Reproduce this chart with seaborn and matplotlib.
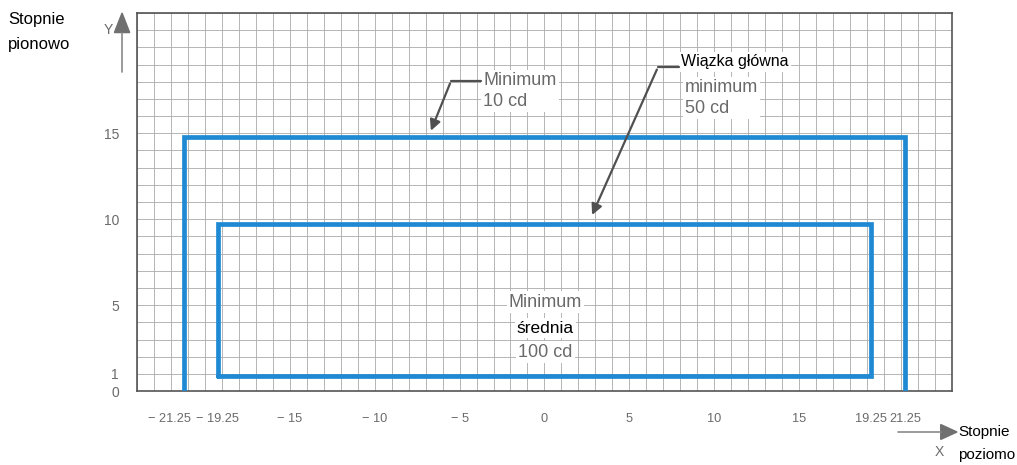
import pandas as pd
import matplotlib.pyplot as plt
import matplotlib.transforms as mtransforms
import seaborn as sns

sns.set_theme(style='white')
plt.rcParams['font.family'] = ['Liberation Sans', 'DejaVu Sans']

# Dane (stopnie)
outer_x = [-21.25, -21.25, 21.25, 21.25]
outer_y = [0, 14.8, 14.8, 0]
inner_x = [-19.2, -19.2, 19.25, 19.25, -19.2]
inner_y = [0.9, 9.75, 9.75, 0.9, 0.9]

x_ticks = [-21.25, -19.25, -15, -10, -5, 0, 5, 10, 15, 19.25, 21.25]
x_labels = ['− 21.25', '− 19.25', '− 15', '− 10', '− 5', '0', '5', '10', '15', '19.25', '21.25']
y_ticks = [0, 1, 5, 10, 15]
y_labels = ['0', '1', '5', '10', '15']

BLUE = '#1f8ad3'
GRAY = '#6a6a6a'
ARROW = '#505050'

df = pd.concat([
    pd.DataFrame({'x': outer_x, 'y': outer_y, 'shape': 'zewn'}),
    pd.DataFrame({'x': inner_x, 'y': inner_y, 'shape': 'wewn'}),
], ignore_index=True)

fig = plt.figure(figsize=(10.17, 4.65), dpi=100)
ax = fig.add_axes([0.1347, 0.159, 0.8013, 0.813])

sns.lineplot(data=df, x='x', y='y', units='shape', estimator=None, sort=False,
             color=BLUE, linewidth=3.4, ax=ax, solid_joinstyle='miter', zorder=3)

ax.set_xlim(-24, 24)
ax.set_ylim(0, 22)

# siatka co 1 stopien
ax.set_xticks(range(-24, 25), minor=True)
ax.set_yticks(range(0, 23), minor=True)
ax.xaxis.remove_overlapping_locs = False
ax.yaxis.remove_overlapping_locs = False
ax.grid(which='minor', color='#b0b0b0', linewidth=0.65)
ax.grid(which='major', visible=False)
ax.tick_params(which='minor', length=0)

ax.set_xticks(x_ticks)
ax.set_xticklabels(x_labels)
ax.set_yticks(y_ticks)
ax.set_yticklabels(y_labels)
ax.tick_params(axis='both', which='major', direction='out', length=10, width=1,
               color='#777777', labelcolor=GRAY, labelsize=9.2)
ax.tick_params(axis='x', pad=6)
ax.tick_params(axis='y', pad=3, labelsize=10)
ax.set_xlabel('')
ax.set_ylabel('')
for s in ax.spines.values():
    s.set_color('#555555')
    s.set_linewidth(1.2)

# przesuniecie etykiety -21.25 w lewo, jak na oryginale
lbl = ax.get_xticklabels()[0]
lbl.set_transform(lbl.get_transform() + mtransforms.ScaledTranslation(-14 / 100, 0, fig.dpi_scale_trans))

box = dict(facecolor='white', edgecolor='none', pad=1.5)

# Minimum 10 cd
ax.text(-3.6, 17.45, 'Minimum\n10 cd', color=GRAY, fontsize=13, ha='left', va='center',
        linespacing=1.3, bbox=box, zorder=4)
ax.plot([-3.75, -5.5], [18.05, 18.05], color=ARROW, lw=1.6, zorder=4)
ax.annotate('', xy=(-6.75, 15.0), xytext=(-5.5, 18.05),
            arrowprops=dict(arrowstyle='-|>', color=ARROW, lw=1.6, mutation_scale=16), zorder=4)

# Wiazka glowna
ax.text(8.05, 19.15, 'Wiązka główna', color='black', fontsize=11.5, ha='left', va='center',
        bbox=box, zorder=4)
ax.text(8.28, 17.05, 'minimum\n50 cd', color=GRAY, fontsize=13, ha='left', va='center',
        linespacing=1.3, bbox=box, zorder=4)
ax.plot([7.9, 6.69], [18.86, 18.86], color=ARROW, lw=1.6, zorder=4)
ax.annotate('', xy=(2.74, 10.1), xytext=(6.69, 18.86),
            arrowprops=dict(arrowstyle='-|>', color=ARROW, lw=1.6, mutation_scale=16), zorder=4)

# Minimum srednia 100 cd
ax.text(0.05, 5.18, 'Minimum', color=GRAY, fontsize=13, ha='center', va='center', bbox=box, zorder=4)
ax.text(0.05, 3.67, 'średnia', color='black', fontsize=12.5, ha='center', va='center', bbox=box, zorder=4)
ax.text(0.05, 2.27, '100 cd', color=GRAY, fontsize=13, ha='center', va='center', bbox=box, zorder=4)

# opisy osi
fig.text(0.008, 0.957, 'Stopnie', fontsize=12, color='black', ha='left', va='center')
fig.text(0.008, 0.905, 'pionowo', fontsize=12, color='black', ha='left', va='center')
fig.text(0.106, 0.935, 'Y', fontsize=10, color=GRAY, ha='center', va='center')
fig.add_artist(plt.Line2D([0.120, 0.120], [0.845, 0.93], color='#8a8a8a', lw=1.2))
fig.patches.append(plt.Polygon([[0.1125, 0.93], [0.1275, 0.93], [0.120, 0.972]],
                               closed=True, color='#707070', transform=fig.transFigure))

fig.add_artist(plt.Line2D([0.883, 0.925], [0.071, 0.071], color='#8a8a8a', lw=1.2))
fig.patches.append(plt.Polygon([[0.925, 0.055], [0.925, 0.087], [0.941, 0.071]],
                               closed=True, color='#707070', transform=fig.transFigure))
fig.text(0.942, 0.071, 'Stopnie', fontsize=11, color='black', ha='left', va='center')
fig.text(0.942, 0.022, 'poziomo', fontsize=11, color='black', ha='left', va='center')
fig.text(0.924, 0.028, 'X', fontsize=10, color=GRAY, ha='center', va='center')

fig.savefig('out.png', dpi=100, facecolor='white')
